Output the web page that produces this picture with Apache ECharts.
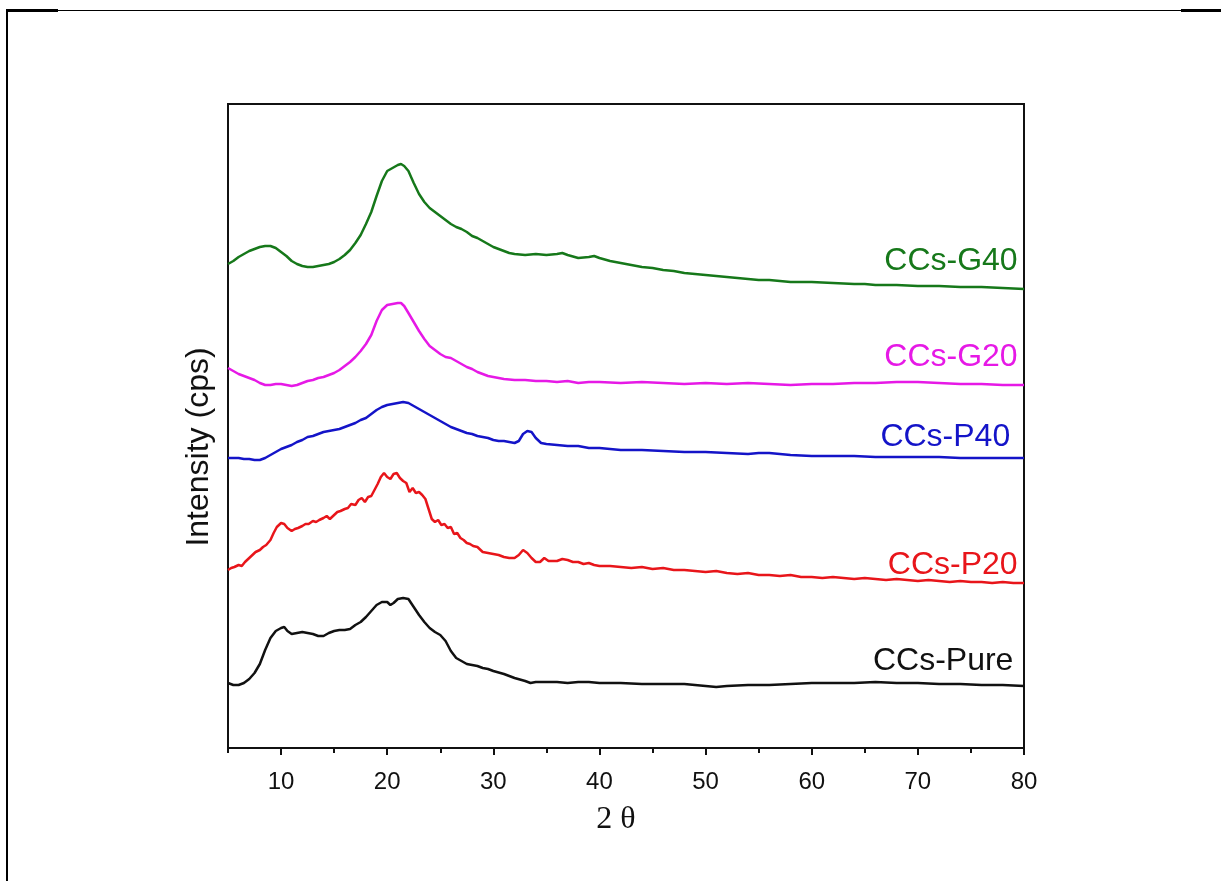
<!DOCTYPE html>
<html>
<head>
<meta charset="utf-8">
<script src="https://cdn.jsdelivr.net/npm/echarts@6/dist/echarts.min.js"></script>
<style>
  html, body { margin: 0; padding: 0; background: #fff; }
  #chart { width: 1221px; height: 881px; }
</style>
</head>
<body>
<div id="chart"></div>
<script>
// XRD patterns (2θ in degrees, intensity in stacked arbitrary counts)
const seriesNames = ['CCs-Pure', 'CCs-P20', 'CCs-P40', 'CCs-G20', 'CCs-G40'];
const xTickLabels = [10, 20, 30, 40, 50, 60, 70, 80];

const g40Theta = [5,5.5,6,6.5,7,7.5,8,8.5,9,9.5,10,10.5,11,11.5,12,12.5,13,13.5,14,14.5,15,15.5,16,16.5,17,17.5,18,18.5,19,19.5,20,20.5,21,21.3,21.6,22,22.5,23,23.5,24,24.5,25,25.5,26,26.5,27,27.5,28,28.5,29,29.5,30,30.5,31,31.5,32,33,34,35,36,36.5,37,38,39,39.5,40,41,42,43,44,45,46,47,48,49,50,52,54,55,56,58,60,62,64,65,66,68,70,72,74,76,78,80];
const g40Int = [484,487,491,494,497,499,501,502,502,500,496,492,487,484,482,481,481,482,483,484,486,489,493,498,505,513,524,536,552,567,577,580,583,584,582,577,565,554,546,540,536,532,528,524,521,519,516,512,510,507,504,501,499,497,495,494,493,494,493,494,495,493,490,491,492,490,487,485,483,481,480,478,477,475,474,473,471,469,468,468,466,466,465,464,464,463,463,462,462,461,461,460,459];

const g20Theta = [5,5.5,6,6.5,7,7.5,8,8.5,9,9.5,10,10.5,11,11.5,12,12.5,13,13.5,14,14.5,15,15.5,16,16.5,17,17.5,18,18.5,19,19.5,20,20.5,21,21.3,21.6,22,22.5,23,23.5,24,24.5,25,25.5,26,26.5,27,27.5,28,28.5,29,29.5,30,31,32,33,34,35,36,37,38,39,40,42,44,46,48,50,52,54,56,58,60,62,64,66,68,70,72,74,76,78,80];
const g20Int = [380,377,374,372,370,368,365,363,363,364,364,363,362,363,365,367,368,370,371,373,375,378,382,386,391,397,404,413,427,438,443,444,445,445,442,435,426,417,409,402,398,394,391,390,387,384,381,379,376,374,372,371,369,368,368,367,367,366,367,365,366,366,365,366,365,364,365,364,365,364,363,364,364,365,365,366,366,365,364,364,363,363];

const p40Theta = [5,5.5,6,6.5,7,7.5,8,8.5,9,9.5,10,10.5,11,11.5,12,12.5,13,13.5,14,14.5,15,15.5,16,16.5,17,17.5,18,18.5,19,19.5,20,20.5,21,21.5,22,22.5,23,23.5,24,24.5,25,25.5,26,26.5,27,27.5,28,28.5,29,29.5,30,30.5,31,31.5,32,32.4,32.8,33.2,33.6,34,34.5,35,36,37,38,39,40,41,42,44,46,48,50,52,54,55,56,58,60,62,64,66,68,70,72,74,76,78,80];
const p40Int = [290,290,290,289,289,288,288,290,293,296,299,301,303,306,308,311,312,314,316,317,318,319,321,323,325,328,330,334,338,341,343,344,345,346,345,342,339,336,333,330,327,324,321,319,317,315,314,312,311,310,308,307,307,306,305,307,314,317,316,310,305,304,303,302,302,300,300,299,298,298,297,296,296,295,294,295,295,293,292,292,292,291,291,291,291,290,290,290,290];

const p20Theta = [5,5.3,5.6,6,6.3,6.6,7,7.3,7.6,8,8.3,8.6,9,9.3,9.6,10,10.3,10.6,11,11.3,11.6,12,12.3,12.6,13,13.3,13.6,14,14.3,14.6,15,15.3,15.6,16,16.3,16.6,17,17.3,17.6,17.9,18.2,18.5,18.8,19.1,19.4,19.7,20,20.3,20.6,20.9,21.2,21.5,21.8,22.1,22.4,22.7,23,23.3,23.6,23.9,24.2,24.5,24.8,25.1,25.4,25.7,26,26.3,26.6,26.9,27.2,27.5,27.8,28.1,28.5,29,29.5,30,30.5,31,31.5,32,32.4,32.8,33.2,33.6,34,34.4,34.8,35.2,35.6,36,36.5,37,37.5,38,38.5,39,39.5,40,41,42,43,44,45,46,47,48,49,50,51,52,53,54,55,56,57,58,59,60,61,62,63,64,65,66,67,68,69,70,71,72,73,74,75,76,77,78,79,80];
const p20Int = [178,180,181,183,182,186,190,193,196,198,201,203,208,215,221,225,224,220,217,219,220,222,224,224,227,226,228,230,232,229,233,236,237,239,240,244,243,248,250,246,251,252,258,264,271,275,271,269,274,275,270,267,265,256,260,255,256,253,249,239,229,226,228,223,224,220,221,214,215,210,208,205,204,202,201,196,195,194,193,191,190,190,193,198,195,190,186,186,190,187,187,187,189,188,186,186,184,185,183,182,182,181,180,181,179,180,178,178,177,176,177,175,174,175,173,173,172,173,171,171,170,171,170,169,170,169,168,169,168,167,168,167,166,167,166,166,165,166,165,165];

const pureTheta = [5,5.5,6,6.5,7,7.5,8,8.5,9,9.5,10,10.3,10.6,11,11.5,12,12.5,13,13.5,14,14.5,15,15.5,16,16.5,17,17.5,18,18.5,19,19.5,20,20.3,20.6,21,21.5,22,22.5,23,23.5,24,24.5,25,25.5,26,26.5,27,27.5,28,28.5,29,29.5,30,31,32,33,33.5,34,35,36,37,38,39,40,42,44,46,48,50,51,52,54,56,58,60,62,64,66,68,70,72,74,76,78,80];
const pureInt = [65,63,63,65,69,75,84,98,110,117,120,121,117,114,115,116,115,114,112,112,115,117,118,118,119,123,126,131,137,143,146,146,143,145,149,150,149,141,133,126,120,116,113,107,97,90,87,84,83,82,80,79,77,74,70,67,65,66,66,66,65,66,66,65,65,64,64,64,62,61,62,63,63,64,65,65,65,66,65,65,64,64,63,63,62];

// where each curve's name is written: [2θ at the text's right edge, intensity at its middle]
const labelAnchors = [[79.0, 87], [79.4, 183], [78.7, 311], [79.4, 391], [79.4, 487]];
const lineColors = ['#111111', '#e8151a', '#1414c8', '#e619e6', '#16781a'];

const thetaSets = [pureTheta, p20Theta, p40Theta, g20Theta, g40Theta];
const intSets = [pureInt, p20Int, p40Int, g20Int, g40Int];

const FONT = "'Liberation Sans', Arial, sans-serif";

const series = seriesNames.map((name, i) => ({
  name: name,
  type: 'line',
  showSymbol: false,
  symbol: 'none',
  data: thetaSets[i].map((t, k) => [t, intSets[i][k]]),
  lineStyle: { color: lineColors[i], width: 2.5 },
  itemStyle: { color: lineColors[i] },
  animation: false,
  markPoint: {
    symbol: 'circle',
    symbolSize: 0,
    silent: true,
    data: [{
      coord: labelAnchors[i],
      label: {
        show: true,
        position: 'left',
        distance: 0,
        formatter: name,
        color: lineColors[i],
        fontSize: 32,
        fontFamily: FONT
      }
    }]
  }
}));

const chart = echarts.init(document.getElementById('chart'), null, { renderer: 'canvas' });
chart.setOption({
  animation: false,
  backgroundColor: '#ffffff',
  grid: {
    left: 228, top: 104, right: 197, bottom: 133,
    show: true, borderColor: '#111', borderWidth: 2, backgroundColor: 'transparent'
  },
  xAxis: [{
    type: 'value', min: 5, max: 80,
    name: '2 θ', nameLocation: 'middle', nameGap: 56,
    nameTextStyle: {
      fontFamily: "'Liberation Serif', 'Times New Roman', serif", fontSize: 32, color: '#111',
      padding: [0, 20, 0, 0]
    },
    axisLine: { show: true, lineStyle: { color: '#111', width: 2 } },
    axisTick: { show: true, customValues: xTickLabels, length: 7, lineStyle: { color: '#111', width: 2 } },
    axisLabel: { customValues: xTickLabels, fontSize: 24, color: '#111', fontFamily: FONT, margin: 22 },
    splitLine: { show: false }
  }, {
    type: 'value', min: 5, max: 80, position: 'bottom',
    axisLine: { show: false },
    axisTick: { show: true, customValues: [5, 15, 25, 35, 45, 55, 65, 75], length: 5, lineStyle: { color: '#111', width: 2 } },
    axisLabel: { show: false },
    splitLine: { show: false }
  }],
  yAxis: {
    type: 'value', min: 0, max: 644,
    name: 'Intensity (cps)', nameLocation: 'middle', nameGap: 13,
    nameTextStyle: { fontFamily: FONT, fontSize: 32, color: '#111', padding: [0, 42, 0, 0] },
    axisLine: { show: true, lineStyle: { color: '#111', width: 2 } },
    axisTick: { show: false },
    axisLabel: { show: false },
    splitLine: { show: false }
  },
  series: series,
  graphic: [
    { type: 'rect', shape: { x: 6, y: 10, width: 1215, height: 1 }, style: { fill: '#000' }, silent: true },
    { type: 'rect', shape: { x: 6, y: 9, width: 52, height: 3 }, style: { fill: '#000' }, silent: true },
    { type: 'rect', shape: { x: 1181, y: 9, width: 40, height: 3 }, style: { fill: '#000' }, silent: true },
    { type: 'rect', shape: { x: 6, y: 10, width: 2, height: 871 }, style: { fill: '#000' }, silent: true }
  ]
});
</script>
</body>
</html>
